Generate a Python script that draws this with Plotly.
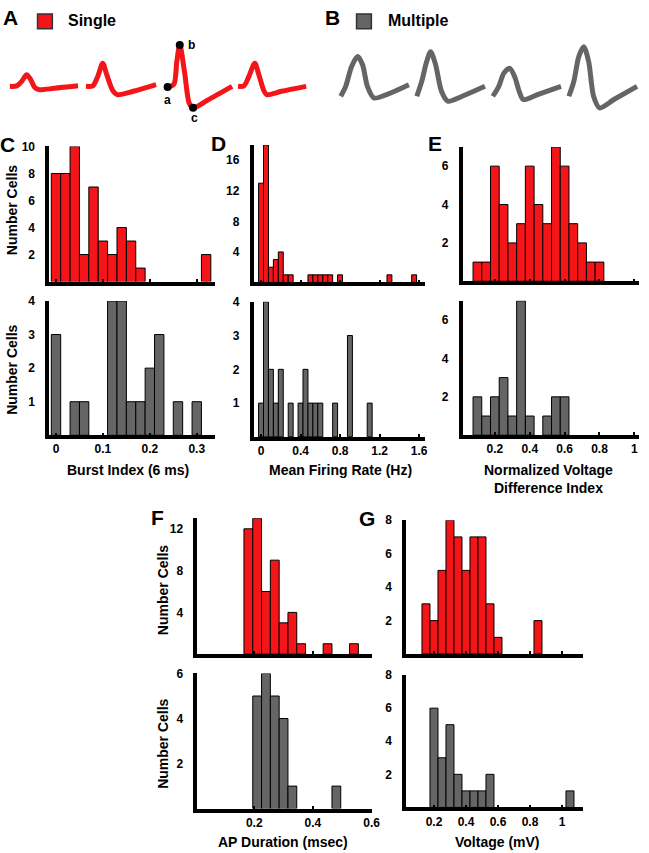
import plotly.graph_objects as go

W, H = 649, 853
RED = "#f41518"
GRAY = "#656565"
FONT = "Liberation Sans, Arial, sans-serif"
LW = 3.5

# ---------------- data ----------------
# C: Burst Index (6 ms), bin width 0.02
burst_width = 0.02
burst_single_bins = [0.00, 0.02, 0.04, 0.06, 0.08, 0.10, 0.12, 0.14, 0.16, 0.18, 0.32]
burst_single_counts = [8, 8, 10, 2, 7, 3, 2, 4, 3, 1, 2]
burst_multi_bins = [0.00, 0.04, 0.06, 0.12, 0.14, 0.16, 0.18, 0.20, 0.22, 0.26, 0.30]
burst_multi_counts = [3, 1, 1, 4, 4, 1, 1, 2, 3, 1, 1]

# D: Mean Firing Rate (Hz), bin width 0.05
rate_width = 0.05
rate_single_bins = [0.00, 0.05, 0.10, 0.15, 0.20, 0.25, 0.30, 0.50, 0.55, 0.60, 0.65, 0.70, 0.80, 1.30, 1.55]
rate_single_counts = [13, 18, 2, 3, 4, 1, 1, 1, 1, 1, 1, 1, 1, 1, 1]
rate_multi_bins = [0.00, 0.05, 0.10, 0.15, 0.20, 0.30, 0.40, 0.45, 0.50, 0.55, 0.60, 0.75, 0.90, 1.10]
rate_multi_counts = [1, 4, 2, 1, 2, 1, 1, 2, 1, 1, 1, 1, 3, 1]

# E: Normalized Voltage Difference Index, bin width 0.05
nvdi_width = 0.05
nvdi_single_bins = [0.10, 0.15, 0.20, 0.25, 0.30, 0.35, 0.40, 0.45, 0.50, 0.55, 0.60, 0.65, 0.70, 0.75, 0.80]
nvdi_single_counts = [1, 1, 6, 4, 2, 3, 6, 4, 3, 7, 6, 3, 2, 1, 1]
nvdi_multi_bins = [0.10, 0.15, 0.20, 0.25, 0.30, 0.35, 0.40, 0.50, 0.55, 0.60]
nvdi_multi_counts = [2, 1, 2, 3, 1, 7, 1, 1, 2, 2]

# F: AP Duration (msec), bin width 0.03
apd_width = 0.03
apd_single_bins = [0.18, 0.21, 0.24, 0.27, 0.30, 0.33, 0.36, 0.45, 0.54]
apd_single_counts = [12, 13, 6, 9, 3, 4, 1, 1, 1]
apd_multi_bins = [0.21, 0.24, 0.27, 0.30, 0.33, 0.48]
apd_multi_counts = [5, 6, 5, 4, 1, 1]

# G: Voltage (mV), bin width 0.05
volt_width = 0.05
volt_single_bins = [0.15, 0.20, 0.25, 0.30, 0.35, 0.40, 0.45, 0.50, 0.55, 0.60, 0.85]
volt_single_counts = [3, 2, 5, 8, 7, 5, 7, 7, 3, 1, 2]
volt_multi_bins = [0.20, 0.25, 0.30, 0.35, 0.40, 0.45, 0.50, 0.55, 1.05]
volt_multi_counts = [6, 3, 5, 2, 1, 1, 1, 2, 1]

# tick labels
burst_ticks = [0, 0.1, 0.2, 0.3]
rate_ticks = [0, 0.4, 0.8, 1.2, 1.6]
nvdi_ticks = [0.2, 0.4, 0.6, 0.8, 1]
apd_ticks = [0.2, 0.4, 0.6]
volt_ticks = [0.2, 0.4, 0.6, 0.8, 1]

# example waveforms (A: single units, B: multiple units); time / amplitude samples
single_wave_t = [
    [10, 17, 22, 27, 31, 35, 39.5, 55, 79],
    [87, 94, 99, 104, 108, 114, 118.6, 135, 158],
    [167, 169.7, 176, 179, 182, 187, 191.5, 195.5, 210, 235],
    [241, 247, 252, 258, 262, 267, 270, 285, 310],
]
single_wave_v = [
    [80, 79.5, 75, 68.3, 73, 81, 83.3, 82, 79.5],
    [80, 79.5, 70, 56.7, 68, 84, 88.3, 85, 78.3],
    [80.5, 80.7, 78, 55, 38.3, 66.7, 96.7, 101.7, 94, 80],
    [80, 79.5, 70, 56.7, 68, 84, 88.3, 85, 80],
]
multi_wave_t = [
    [345, 350, 356, 362, 367, 372, 378.6, 392, 414],
    [422, 427, 432, 436, 441, 447, 453.4, 468, 491],
    [499, 505, 510, 516, 521, 526, 530, 545, 568],
    [576, 581, 586, 591, 596, 601, 607, 622, 645],
]
multi_wave_v = [
    [90, 80, 60, 50, 58, 80, 91.7, 88, 78.3],
    [90, 75, 55, 45, 58, 85, 95, 90, 80],
    [90, 80, 67, 61.7, 70, 86, 93.3, 88, 80],
    [90, 75, 50, 40, 55, 90, 101.7, 93, 80],
]
marker_names = ["a", "b", "c"]
marker_t = [169.7, 182, 195.5]
marker_v = [80.7, 38.3, 101.7]

# ---------------- layout helpers (pixel geometry) ----------------
def fx(x):
    return x / W

def fy(y):
    return 1 - y / H

# column geometry: y-axis line px, px of value 0, px per unit, right end px
cols = {
    "C": dict(axis=48, zero=56.7, scale=475, right=218),
    "D": dict(axis=255, zero=264.3, scale=100, right=430),
    "E": dict(axis=466.7, zero=465.7, scale=176.6, right=646.7),
    "F": dict(axis=198, zero=198, scale=297, right=376.5),
    "G": dict(axis=409.3, zero=407, scale=162, right=590),
}

panels = [
    # column, baseline px, top px, ymax, yticks, bins, counts, width, color, xticks, show x labels
    ("C", 278.6, 140.6, 10, [2, 4, 6, 8, 10], burst_single_bins, burst_single_counts, burst_width, RED, burst_ticks, False),
    ("C", 433.6, 296.4, 4, [1, 2, 3, 4], burst_multi_bins, burst_multi_counts, burst_width, GRAY, burst_ticks, True),
    ("D", 279.5, 139.1, 18, [4, 8, 12, 16], rate_single_bins, rate_single_counts, rate_width, RED, rate_ticks, False),
    ("D", 435.2, 297.2, 4, [1, 2, 3, 4], rate_multi_bins, rate_multi_counts, rate_width, GRAY, rate_ticks, True),
    ("E", 278.3, 141.1, 7, [2, 4, 6], nvdi_single_bins, nvdi_single_counts, nvdi_width, RED, nvdi_ticks, False),
    ("E", 433.5, 296.3, 7, [2, 4, 6], nvdi_multi_bins, nvdi_multi_counts, nvdi_width, GRAY, nvdi_ticks, True),
    ("F", 654.3, 515.6, 13, [4, 8, 12], apd_single_bins, apd_single_counts, apd_width, RED, apd_ticks, False),
    ("F", 810.0, 672.0, 6, [2, 4, 6], apd_multi_bins, apd_multi_counts, apd_width, GRAY, apd_ticks, True),
    ("G", 654.2, 517.4, 8, [2, 4, 6, 8], volt_single_bins, volt_single_counts, volt_width, RED, volt_ticks, False),
    ("G", 808.8, 673.6, 8, [2, 4, 6, 8], volt_multi_bins, volt_multi_counts, volt_width, GRAY, volt_ticks, True),
]

fig = go.Figure()
layout = dict(
    width=W, height=H, margin=dict(l=0, r=0, t=0, b=0),
    paper_bgcolor="white", plot_bgcolor="white", showlegend=False,
    font=dict(family=FONT, color="black"),
)
tickfont = dict(family=FONT, size=12, color="black", weight="bold")

for i, (col, base, top, ymax, yticks, bins, counts, width, color, xticks, xlab) in enumerate(panels, start=1):
    g = cols[col]
    left = g["axis"] + LW / 2
    right = g["right"]
    xr = [(left - g["zero"]) / g["scale"], (right - g["zero"]) / g["scale"]]
    bottom = base - LW / 2
    sfx = "" if i == 1 else str(i)
    fig.add_trace(go.Bar(
        x=bins, y=counts, width=width,
        marker=dict(color=color, line=dict(color="black", width=1)),
        xaxis="x" + sfx, yaxis="y" + sfx, hoverinfo="x+y",
    ))
    layout["xaxis" + sfx] = dict(
        domain=[fx(left), fx(right)], range=xr, anchor="y" + sfx,
        showline=True, linewidth=LW, linecolor="black", showgrid=False, zeroline=False,
        ticks="inside", ticklen=3, tickwidth=1.5, tickcolor="black",
        tickvals=xticks, showticklabels=xlab, tickfont=tickfont,
    )
    layout["yaxis" + sfx] = dict(
        domain=[fy(bottom), fy(top)], range=[0, ymax], anchor="x" + sfx,
        showline=True, linewidth=LW, linecolor="black", showgrid=False, zeroline=False,
        ticks="", tickvals=yticks, tickfont=tickfont, ticklabelstandoff=8,
    )

# waveform strip at the top (pixel-like coordinates)
wx, wy = "x11", "y11"
for t, v in zip(single_wave_t, single_wave_v):
    fig.add_trace(go.Scatter(x=t, y=v, mode="lines", xaxis=wx, yaxis=wy,
                             line=dict(color=RED, width=5, shape="spline", smoothing=0.8),
                             hoverinfo="skip"))
for t, v in zip(multi_wave_t, multi_wave_v):
    fig.add_trace(go.Scatter(x=t, y=v, mode="lines", xaxis=wx, yaxis=wy,
                             line=dict(color=GRAY, width=5, shape="spline", smoothing=0.8),
                             hoverinfo="skip"))
fig.add_trace(go.Scatter(x=marker_t, y=marker_v, mode="markers", xaxis=wx, yaxis=wy,
                         marker=dict(color="black", size=8), hoverinfo="skip"))
layout["xaxis11"] = dict(domain=[0, 1], range=[0, W], visible=False, anchor="y11")
layout["yaxis11"] = dict(domain=[fy(118), 1], range=[118, 0], visible=False, anchor="x11")

annotations = []

def text(t, x, y, size, angle=0, xanchor="center"):
    annotations.append(dict(
        text=t, x=fx(x), y=fy(y), xref="paper", yref="paper", showarrow=False,
        xanchor=xanchor, yanchor="middle", textangle=angle,
        font=dict(family=FONT, size=size, color="black", weight="bold"),
    ))

# panel letters
for letter, x, y in [("A", 11, 11), ("B", 337, 11), ("C", 8, 139), ("D", 221, 138),
                     ("E", 440, 138), ("F", 159, 515), ("G", 372, 516)]:
    text(letter, x, y, 21)

# legend labels
text("Single", 67, 14, 16, xanchor="left")
text("Multiple", 391, 14, 16, xanchor="left")

# a, b, c labels
for name, x, y in [("a", 169.6, 94), ("b", 193.5, 38), ("c", 197, 112)]:
    text(name, x, y, 12)

# axis titles
text("Burst Index (6 ms)", 130, 467, 14)
text("Mean Firing Rate (Hz)", 345, 467, 14)
text("Normalized Voltage", 555, 467, 14)
text("Difference Index", 555, 485, 14)
text("AP Duration (msec)", 287, 842, 14)
text("Voltage (mV)", 504, 842, 14)
for x, y in [(12, 205), (12, 366), (165, 588), (165, 743)]:
    text("Number Cells", x, y, 14, angle=-90)

layout["annotations"] = annotations
layout["shapes"] = [
    dict(type="rect", xref="paper", yref="paper", x0=fx(38), x1=fx(53), y0=fy(22), y1=fy(7),
         fillcolor=RED, line=dict(color="#333333", width=1.5)),
    dict(type="rect", xref="paper", yref="paper", x0=fx(361), x1=fx(376), y0=fy(22), y1=fy(7),
         fillcolor=GRAY, line=dict(color="#333333", width=1.5)),
]

fig.update_layout(**layout)
fig.write_html(
    "out.html",
    config={"displayModeBar": False},
    post_script="document.body.style.margin='0';document.body.style.overflow='hidden';",
)
